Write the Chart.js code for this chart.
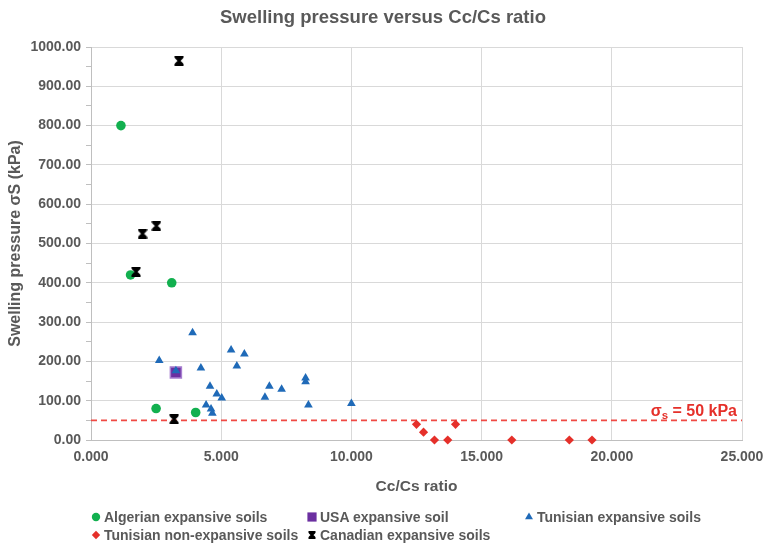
<!DOCTYPE html>
<html>
<head>
<meta charset="utf-8">
<script src="https://cdn.jsdelivr.net/npm/chart.js@4/dist/chart.umd.min.js"></script>
<style>
  html, body { margin: 0; padding: 0; background: #fff; }
  #wrap { position: relative; width: 766px; height: 546px; }
  #c { position: absolute; left: 0; top: 0; }
  #legend {
    position: absolute; left: 90px; top: 508px;
    display: grid; grid-template-columns: 216px 217px 230px; grid-auto-rows: 18px;
    font-family: "Liberation Sans", Arial, sans-serif; font-weight: bold; font-size: 14px; color: #595959;
  }
  .item { display: flex; align-items: center; white-space: nowrap; }
  .item canvas { width: 12px; height: 12px; margin-right: 2px; }
</style>
</head>
<body>
<div id="wrap">
  <canvas id="c" width="766" height="546"></canvas>
  <div id="legend"></div>
</div>
<script>
// ---- data ----
const seriesNames = ["Algerian expansive soils", "USA expansive soil", "Tunisian expansive soils",
                     "Tunisian non-expansive soils", "Canadian expansive soils"];

const algerianX = [1.15, 1.52, 3.10, 2.50, 4.02];
const algerianY = [800, 420, 400, 80, 70];

const usaX = [3.26];
const usaY = [172];

const tunisianX = [2.62, 3.26, 3.90, 4.22, 5.38, 5.89, 5.60, 4.57, 4.83, 5.02, 4.42, 4.61, 4.66, 6.85, 7.32, 6.68, 8.24, 8.24, 8.35, 10.00];
const tunisianY = [202, 176, 273, 183, 229, 219, 188, 137, 117, 107, 89, 79, 68, 137, 129, 109, 158, 148, 89, 93];

const nonExpX = [12.50, 12.77, 13.19, 13.70, 14.00, 16.16, 18.37, 19.24];
const nonExpY = [40, 20, 0, 0, 40, 0, 0, 0];

const canadianX = [3.38, 2.51, 1.98, 1.73, 3.19];
const canadianY = [965, 545, 525, 428, 53];

const thresholdX = [0, 25];
const thresholdY = [50, 50];
const thresholdLabel = ["σ", "s", " = 50 kPa"];

const xTickValues = [0, 5, 10, 15, 20, 25];
const yTickValues = [0, 100, 200, 300, 400, 500, 600, 700, 800, 900, 1000];

// ---- helpers ----
const FONT = '"Liberation Sans", Arial, sans-serif';
const GREY = '#595959';
function pts(xs, ys) { return xs.map((x, i) => ({ x: x, y: ys[i] })); }

function hourglass(size) {
  const cv = document.createElement('canvas');
  cv.width = size; cv.height = size;
  const g = cv.getContext('2d');
  g.fillStyle = '#000'; g.strokeStyle = '#000';
  const m = size / 2;
  g.beginPath();
  g.moveTo(1, 1); g.lineTo(size - 1, 1); g.lineTo(m, m);
  g.closePath(); g.fill();
  g.beginPath();
  g.moveTo(1, size - 1); g.lineTo(size - 1, size - 1); g.lineTo(m, m);
  g.closePath(); g.fill();
  g.lineWidth = 2.2;
  g.beginPath();
  g.moveTo(1.5, 1.5); g.lineTo(size - 1.5, size - 1.5);
  g.moveTo(size - 1.5, 1.5); g.lineTo(1.5, size - 1.5);
  g.stroke();
  g.lineWidth = 2;
  g.beginPath();
  g.moveTo(0.5, 1); g.lineTo(size - 0.5, 1);
  g.moveTo(0.5, size - 1); g.lineTo(size - 0.5, size - 1);
  g.stroke();
  return cv;
}
const hgChart = hourglass(10);

const datasets = [
  { label: seriesNames[0], data: pts(algerianX, algerianY), pointStyle: 'circle', pointRadius: 4.8,
    backgroundColor: '#12b04f', borderColor: '#12b04f', borderWidth: 0, order: 4, clip: false },
  { label: seriesNames[1], data: pts(usaX, usaY), pointStyle: 'rect', pointRadius: 7.8,
    backgroundColor: '#6b2fa0', borderColor: '#a77fd0', borderWidth: 1.5, order: 3, clip: false },
  { label: seriesNames[2], data: pts(tunisianX, tunisianY), pointStyle: 'triangle', pointRadius: 5,
    backgroundColor: '#1f6ab8', borderColor: '#1f6ab8', borderWidth: 0, order: 2, clip: false },
  { label: seriesNames[3], data: pts(nonExpX, nonExpY), pointStyle: 'rectRot', pointRadius: 4.6,
    backgroundColor: '#e5302a', borderColor: '#e5302a', borderWidth: 0, order: 5, clip: false },
  { label: seriesNames[4], data: pts(canadianX, canadianY), pointStyle: hgChart, pointRadius: 5,
    backgroundColor: '#000', borderColor: '#000', order: 1, clip: false },
  { label: 'threshold', data: pts(thresholdX, thresholdY), type: 'line', showLine: true, pointRadius: 0,
    borderColor: '#f04a44', borderWidth: 1.6, borderDash: [6, 4], fill: false, order: 6, isThreshold: true }
];

const thresholdLabelPlugin = {
  id: 'thresholdLabel',
  afterDatasetsDraw(chart) {
    const ctx = chart.ctx;
    const y = chart.scales.y.getPixelForValue(thresholdY[0]);
    const right = chart.chartArea.right - 5;
    ctx.save();
    ctx.fillStyle = '#e5302a';
    ctx.textBaseline = 'alphabetic';
    const big = 'bold 16px ' + FONT, small = 'bold 11.5px ' + FONT;
    ctx.font = big; const w1 = ctx.measureText(thresholdLabel[0]).width; const w3 = ctx.measureText(thresholdLabel[2]).width;
    ctx.font = small; const w2 = ctx.measureText(thresholdLabel[1]).width;
    let x = right - (w1 + w2 + w3);
    const base = y - 4;
    ctx.font = big; ctx.fillText(thresholdLabel[0], x, base); x += w1;
    ctx.font = small; ctx.fillText(thresholdLabel[1], x, base + 3); x += w2;
    ctx.font = big; ctx.fillText(thresholdLabel[2], x, base);
    ctx.restore();
  }
};

const chart = new Chart(document.getElementById('c'), {
  type: 'scatter',
  data: { datasets: datasets },
  options: {
    responsive: false,
    animation: false,
    layout: { padding: { left: 0, right: 0, top: 0, bottom: 46 } },
    plugins: {
      legend: { display: false },
      tooltip: { enabled: false },
      title: {
        display: true, text: 'Swelling pressure versus Cc/Cs ratio', color: GREY,
        font: { family: FONT, size: 18.5, weight: 'bold' }, padding: { top: 7, bottom: 17.8 }
      }
    },
    scales: {
      x: {
        type: 'linear', min: 0, max: 25,
        afterBuildTicks: s => { s.ticks = xTickValues.map(v => ({ value: v })); },
        afterFit: s => { s.height = 60; s.paddingRight = 24; },
        ticks: { color: GREY, font: { family: FONT, size: 14, weight: 'bold' }, padding: 9,
                 callback: v => Number(v).toFixed(3), maxRotation: 0, autoSkip: false },
        grid: { color: '#d9d9d9', lineWidth: 1, drawTicks: false },
        border: { display: true, color: '#bfbfbf' },
        title: { display: true, text: 'Cc/Cs ratio', color: GREY,
                 font: { family: FONT, size: 15.5, weight: 'bold' }, padding: { top: 4, bottom: 4 } }
      },
      y: {
        type: 'linear', min: 0, max: 1000,
        afterBuildTicks: s => {
          const t = [];
          for (let i = 0; i < yTickValues.length; i++) {
            t.push({ value: yTickValues[i] });
            if (i < yTickValues.length - 1) t.push({ value: (yTickValues[i] + yTickValues[i + 1]) / 2, minor: true });
          }
          s.ticks = t;
        },
        afterFit: s => { s.width = 91; },
        ticks: { color: GREY, font: { family: FONT, size: 14, weight: 'bold' }, padding: 5, autoSkip: false,
                 callback: v => (yTickValues.includes(v) ? Number(v).toFixed(2) : '') },
        grid: {
          color: c => (c.tick && yTickValues.includes(c.tick.value) ? '#d9d9d9' : 'rgba(0,0,0,0)'),
          tickColor: '#bfbfbf', tickLength: 5, drawTicks: true, lineWidth: 1
        },
        border: { display: true, color: '#bfbfbf' },
        title: { display: true, text: 'Swelling pressure σS (kPa)', color: GREY,
                 font: { family: FONT, size: 16, weight: 'bold' }, padding: { top: 6, bottom: 4 } }
      }
    }
  },
  plugins: [thresholdLabelPlugin]
});

// ---- HTML legend built from the datasets ----
const legend = document.getElementById('legend');
chart.data.datasets.forEach(ds => {
  if (ds.isThreshold) return;
  const item = document.createElement('div'); item.className = 'item';
  const cv = document.createElement('canvas'); cv.width = 12; cv.height = 12;
  const g = cv.getContext('2d');
  if (typeof ds.pointStyle === 'string') {
    g.fillStyle = ds.backgroundColor; g.strokeStyle = ds.backgroundColor;
    const r = { circle: 4.2, rect: 6.5, triangle: 4.6, rectRot: 4.2 }[ds.pointStyle] || 4;
    Chart.helpers.drawPoint(g, { pointStyle: ds.pointStyle, radius: r, rotation: 0, borderWidth: 0 }, 6, 6);
  } else {
    const h = hourglass(8); g.drawImage(h, 2, 2);
  }
  const sp = document.createElement('span'); sp.textContent = ds.label;
  item.appendChild(cv); item.appendChild(sp); legend.appendChild(item);
});
</script>
</body>
</html>
